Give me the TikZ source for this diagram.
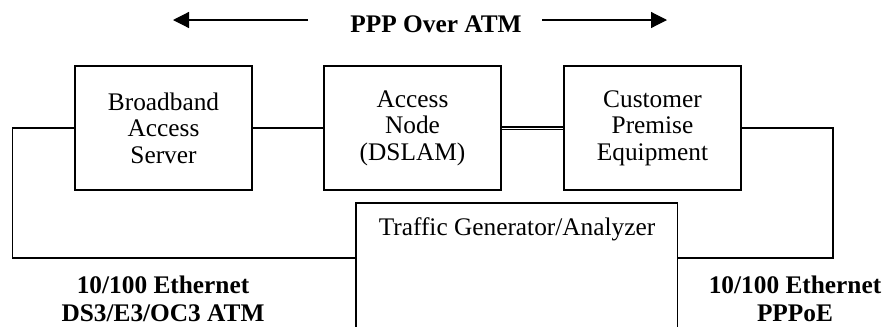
\documentclass[tikz,border=0pt]{standalone}
\usepackage{fontspec}
\setmainfont{Liberation Serif}
\usepackage{tikz}
\usetikzlibrary{arrows.meta}

\tikzset{
  unitbox/.style={draw, line width=0.9pt, minimum width=132.75pt, minimum height=93pt,
    align=center, font=\fontsize{19}{20}\selectfont},
  linklabel/.style={align=center, font=\fontsize{19}{21}\selectfont\bfseries},
  wire/.style={line width=0.9pt},
  pparrow/.style={line width=0.9pt, -{Triangle[length=12pt, width=12pt]}}
}

\begin{document}
\begin{tikzpicture}[x=0.75pt,y=0.75pt,yscale=-1,xscale=1]
        \useasboundingbox (0,0) rectangle (886,326);

        % the three boxes on top
        \node [unitbox] (bas) at (163.5,128) {Broadband\\Access\\Server};
        \node [unitbox] (an) at (412.5,128) {Access\\Node\\(DSLAM)};
        \node [unitbox] (cpe) at (652.5,128) {Customer\\Premise\\Equipment};

        % traffic generator, open at the bottom
        \node [anchor=north west, minimum width=240.75pt, minimum height=92.25pt, inner sep=0pt] (tga) at (356,203) {};
        \draw [wire] (tga.south west) -- (tga.north west) -- (tga.north east) -- (tga.south east);
        \node [font=\fontsize{19}{20}\selectfont] (tgatext) at (517,229) {Traffic Generator/Analyzer};

        % links
        \coordinate (lft) at (12.5,258);
        \coordinate (rgt) at (833,258);
        \draw [wire] (bas.west) -| (lft) -- (lft -| tga.west);
        \draw [wire] (bas.east) -- (an.west);
        \draw [line width=1.5pt, double, double distance=0.6pt] (an.east) -- (cpe.west);
        \draw [wire] (cpe.east) -| (rgt) -- (rgt -| tga.east);

        % top label
        \node [linklabel] (ppp) at (436,24) {PPP Over ATM};
        \coordinate (la) at (308,20);
        \coordinate (lb) at (173,20);
        \coordinate (ra) at (542,20);
        \coordinate (rb) at (667,20);
        \draw [pparrow] (la) -- (lb);
        \draw [pparrow] (ra) -- (rb);

        \node [linklabel] (leftlbl) at (163,299) {10/100 Ethernet\\DS3/E3/OC3 ATM};
        \node [linklabel] (rightlbl) at (795,299) {10/100 Ethernet\\PPPoE};
    \end{tikzpicture}
\end{document}
